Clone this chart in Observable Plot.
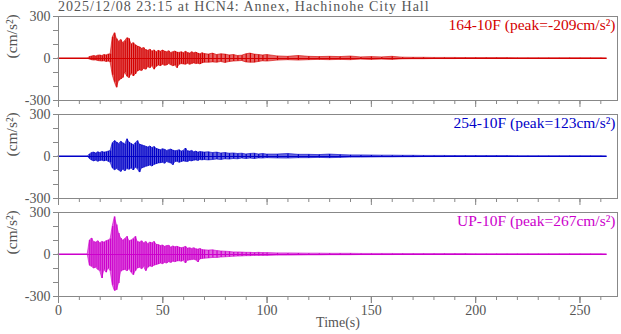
<!DOCTYPE html>
<html><head><meta charset="utf-8">
<script src="https://cdn.jsdelivr.net/npm/d3@7"></script>
<script src="https://cdn.jsdelivr.net/npm/@observablehq/plot@0.6"></script>
<style>
body{margin:0;background:#fff;}
#wrap{position:relative;width:621px;height:334px;}
#title{position:absolute;left:58px;top:0px;font:14px "Liberation Serif",serif;letter-spacing:1px;color:#555;line-height:14px;white-space:nowrap;}
</style></head><body>
<div id="wrap">
<div id="chart"></div>
<div id="title">2025/12/08 23:15 at HCN4: Annex, Hachinohe City Hall</div>
</div>
<script>
const times = [0, 14,
  15,16,17,18,19,20,21,22,23,24,25,26,27,28,29,30,31,32,33,34,35,36,37,38,39,40,41,42,
  43,44,45,46,47,48,49,50,51,52,53,54,55,56,57,58,59,60,61,62,63,64,65,66,67,68,69,70,
  72,74,76,78,80,82,84,86,88,90,92,94,96,98,100,
  105,110,115,120,125,130,135,140,145,150,155,160,165,170,175,180,185,190,195,200,205,210,
  215,220,225,230,235,240,245,250,255,260, 263];

const redHi = [0, 0,
  10,14,18,15,20,22,18,25,22,28,30,150,181,140,120,133,110,125,145,140,100,110,95,86,80,70,75,60,
  55,62,50,58,45,55,48,57,50,45,52,40,45,50,42,40,45,38,48,40,35,45,38,42,35,30,38,32,
  28,35,25,30,28,22,25,18,20,30,35,28,25,22,25,
  15,12,18,12,10,12,10,14,8,10,8,12,6,5,5,4,4,4,3,3,3,3,3,2,2,2,2,2,2,2,2,2, 0];
const redLo = [0, 0,
  -8,-12,-15,-14,-18,-20,-22,-20,-25,-22,-28,-120,-170,-209,-160,-150,-140,-100,-130,-140,-110,-128,-115,-93,-85,-90,-75,-80,
  -62,-70,-55,-80,-60,-50,-55,-45,-52,-50,-40,-48,-55,-50,-69,-45,-40,-42,-45,-38,-45,-40,-35,-40,-38,-42,-35,-30,
  -30,-28,-30,-25,-32,-25,-22,-20,-18,-28,-30,-30,-25,-20,-22,
  -15,-12,-15,-12,-10,-12,-10,-12,-8,-10,-8,-10,-6,-5,-5,-4,-4,-4,-3,-3,-3,-3,-3,-2,-2,-2,-2,-2,-2,-2,-2,-2, 0];

const blueHi = [0, 0,
  15,25,28,22,30,25,32,28,30,35,40,95,110,100,90,105,95,85,123,100,90,80,95,110,85,80,75,70,
  65,72,60,68,55,50,45,52,48,40,45,50,42,38,40,45,35,40,57,38,35,40,30,35,28,32,30,28,
  30,25,28,22,25,20,22,18,20,15,18,20,15,18,14,
  14,18,12,12,10,14,10,8,8,7,6,6,5,5,4,4,4,3,3,3,3,3,3,2,2,2,2,2,2,2,2,2, 0];
const blueLo = [0, 0,
  -18,-28,-35,-30,-38,-32,-30,-35,-30,-38,-45,-85,-98,-90,-100,-110,-95,-105,-90,-95,-85,-100,-80,-90,-115,-86,-80,-74,
  -70,-65,-72,-60,-55,-50,-48,-45,-52,-40,-45,-50,-62,-40,-38,-45,-40,-35,-38,-40,-32,-35,-30,-28,-32,-25,-28,-25,
  -28,-25,-22,-25,-20,-22,-18,-20,-15,-18,-15,-18,-14,-15,-12,
  -14,-15,-12,-12,-10,-12,-10,-8,-8,-7,-6,-6,-5,-5,-4,-4,-4,-3,-3,-3,-3,-3,-3,-2,-2,-2,-2,-2,-2,-2,-2,-2, 0];

const upHi = [0, 0,
  100,114,90,85,95,80,90,85,95,100,110,200,267,210,150,114,100,110,126,95,100,110,126,90,85,95,80,90,
  75,85,80,90,70,67,60,65,55,60,62,50,58,52,55,50,45,48,55,42,45,40,45,38,35,40,32,30,
  28,30,25,22,20,18,15,15,14,12,12,10,12,10,10,
  8,8,7,6,6,5,5,5,4,4,4,4,3,3,3,3,3,3,3,2,2,2,2,2,2,2,2,2,2,2,2,2, 0];
const upLo = [0, 0,
  -80,-88,-100,-95,-110,-120,-171,-110,-130,-100,-120,-220,-260,-255,-207,-124,-115,-110,-120,-105,-130,-148,-120,-100,-95,-105,-90,-119,
  -95,-85,-90,-80,-75,-71,-65,-70,-60,-65,-55,-60,-52,-55,-50,-48,-52,-45,-64,-45,-42,-40,-38,-42,-57,-35,-32,-30,
  -28,-25,-25,-22,-20,-18,-16,-15,-14,-12,-12,-10,-10,-10,-10,
  -8,-8,-7,-6,-6,-5,-5,-5,-4,-4,-4,-4,-3,-3,-3,-3,-3,-3,-3,-2,-2,-2,-2,-2,-2,-2,-2,-2,-2,-2,-2,-2, 0];

const comps = ["164-10F", "254-10F", "UP-10F"];
const peaks = [-209, 123, 267];
const colors = ["#d40000", "#0000c8", "#cc00cc"];
const xMajor = [0, 50, 100, 150, 200, 250];
const xMinor = d3.range(0, 261, 10);
const yTicks = [-300, -200, -100, 0, 100, 200, 300];
const yLabeled = [-300, 0, 300];

const series = [[redHi, redLo], [blueHi, blueLo], [upHi, upLo]];
const rows = comps.flatMap((c, i) => times.map((t, j) => ({comp: c, t, hi: series[i][0][j], lo: series[i][1][j]})));
const info = comps.map((c, i) => ({comp: c, label: `${c} (peak=${peaks[i]}cm/s²)`, t0: times[0], t1: times[times.length - 1]}));

const plot = Plot.plot({
  width: 621, height: 334, marginTop: 15, marginBottom: 38, marginLeft: 58, marginRight: 4,
  style: 'font-family:"Liberation Serif",serif;font-size:14px;color:#555;background:#fff;',
  x: {domain: [0, 268]},
  y: {domain: [-300, 300]},
  fy: {domain: comps, paddingInner: 0.147, paddingOuter: 0, axis: null, label: null},
  color: {domain: comps, range: colors},
  marks: [
    Plot.areaY(rows, {x: "t", y1: "lo", y2: "hi", fy: "comp", fill: "comp", fillOpacity: 0.6, stroke: "comp", strokeWidth: 0.6}),
    Plot.ruleX(rows, {x: "t", y1: "lo", y2: "hi", fy: "comp", stroke: "comp", strokeWidth: 1.2}),
    Plot.ruleY(info, {y: 0, x1: "t0", x2: "t1", fy: "comp", stroke: "comp", strokeWidth: 1}),
    Plot.frame({stroke: "#888"}),
    Plot.axisX({ticks: xMinor, tickSize: 4, tickFormat: () => "", facetAnchor: null, stroke: "#888", label: null}),
    Plot.axisX({ticks: xMajor, tickSize: 7, tickFormat: () => "", facetAnchor: null, stroke: "#888", label: null}),
    Plot.axisX({ticks: xMajor, tickSize: 7, tickPadding: 2, tickFormat: d => String(d), stroke: "#888", fill: "#555", label: null}),
    Plot.axisY({ticks: yTicks, tickSize: 5, tickPadding: 3, facetAnchor: null, stroke: "#888", fill: "#555", label: null,
      tickFormat: d => yLabeled.includes(d) ? String(d) : ""}),
    Plot.text(info, {fy: "comp", text: () => "(cm/s²)", frameAnchor: "left", dx: -46, rotate: -90, fill: "#555", fontSize: 15.5}),
    Plot.text(info, {fy: "comp", text: "label", fill: "comp", frameAnchor: "top-right", dx: -2, dy: 2, textAnchor: "end", lineAnchor: "top", fontSize: 15.5}),
    Plot.text(info.slice(2), {fy: "comp", text: () => "Time(s)", frameAnchor: "bottom", dy: 30, fill: "#555"})
  ]
});
document.getElementById("chart").appendChild(plot);
</script>
</body></html>
